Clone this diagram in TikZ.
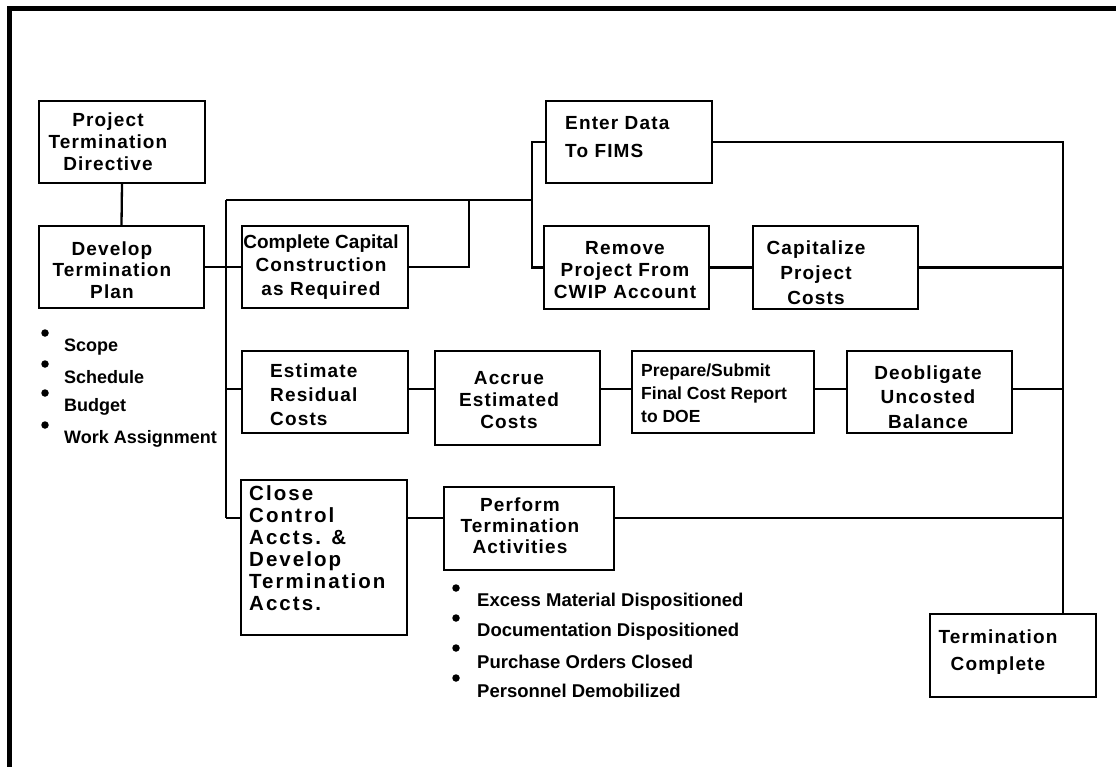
\documentclass[tikz,border=0pt]{standalone}
\usepackage{fontspec}
\setmainfont{Liberation Sans}
\newfontfamily\lsp[LetterSpace=6]{Liberation Sans}
\newfontfamily\lspw[LetterSpace=10]{Liberation Sans}
\newfontfamily\pln{Liberation Sans}
\begin{document}
\begin{tikzpicture}[x=1pt,y=-1pt,
  box/.style={draw,line width=2.4pt,inner sep=0pt},
  conn/.style={line width=2.3pt},
  bt/.style={inner sep=0pt,align=center,font={\lsp\bfseries\fontsize{19}{#1}\selectfont}},
  btl/.style={inner sep=0pt,align=left,anchor=west,font={\lsp\bfseries\fontsize{19}{#1}\selectfont}},
  dot/.style={circle,fill=black,inner sep=0pt,minimum size=7.5pt},
  blt/.style={inner sep=0pt,anchor=west,font={\pln\bfseries\fontsize{#1}{#1}\selectfont}}]
\useasboundingbox (0,0) rectangle (1116,767);
% outer frame (top and left edges)
\draw[line width=4.7pt,line join=miter] (9.7,775) -- (9.7,8.5) -- (1125,8.5);

% boxes
\node[box,minimum width=166pt,minimum height=82pt] (ptd) at (122,142) {};
\node[box,minimum width=165pt,minimum height=82pt] (dtp) at (121.5,267) {};
\node[box,minimum width=166pt,minimum height=82pt] (ccc) at (325,267) {};
\node[box,minimum width=166pt,minimum height=82pt] (ent) at (629,142) {};
\node[box,minimum width=165pt,minimum height=83pt] (rem) at (626.5,267.5) {};
\node[box,minimum width=165pt,minimum height=83pt] (cap) at (835.5,267.5) {};
\node[box,minimum width=166pt,minimum height=82pt] (est) at (325,392) {};
\node[box,minimum width=165pt,minimum height=94pt] (acc) at (517.5,398) {};
\node[box,minimum width=182pt,minimum height=82pt] (prep) at (723,392) {};
\node[box,minimum width=165pt,minimum height=82pt] (deo) at (929.5,392) {};
\node[box,minimum width=166pt,minimum height=155pt] (clo) at (324,557.5) {};
\node[box,minimum width=170pt,minimum height=83pt] (per) at (529,528.5) {};
\node[box,minimum width=166pt,minimum height=83pt] (tc) at (1013,655.5) {};

% box texts
\node[bt=22] (ptdT) at (108,142) {Project\\Termination\\Directive};
\node[bt=21.5] (dtpT) at (112,270) {Develop\\Termination\\Plan};
\node[bt=23.5] (cccT) at (321,267) {{\pln\bfseries Complete Capital}\\Construction\\as Required};
\node[btl=28] (entT) at (565,137.5) {Enter Data\\To FIMS};
\node[bt=22] (remT) at (625,270) {Remove\\Project From\\CWIP Account};
\node[bt=25] (capT) at (816,273) {Capitalize\\Project\\Costs};
\node[btl=24] (estT) at (270,395) {Estimate\\Residual\\ Costs};
\node[bt=22] (accT) at (509,400) {Accrue\\Estimated\\Costs};
\node[inner sep=0pt,align=left,anchor=west,font={\pln\bfseries\fontsize{17.5}{23}\selectfont}] (prepT) at (641,393) {Prepare/Submit\\Final Cost Report\\to DOE};
\node[bt=24.5] (deoT) at (928,397) {Deobligate\\Uncosted\\Balance};
\node[inner sep=0pt,align=left,anchor=west,font={\lspw\bfseries\fontsize{20.5}{22}\selectfont}] (cloT) at (249,548.5) {Close\\Control\\Accts. \&\\Develop\\Termination\\Accts.};
\node[bt=21] (perT) at (520,526) {Perform\\Termination\\Activities};
\node[bt=27] (tcT) at (998,652) {Termination\\Complete};

% junction coordinates
\coordinate (busT) at (226,200);
\coordinate (busB) at (226,518);
\coordinate (bus2) at (226,389);
\coordinate (j1) at (469,200);
\coordinate (j2M) at (532,200);
\coordinate (rX) at (1063,0);

% connectors
\draw[conn] (ptd.south) -- (dtp.north);
\draw[conn] (dtp.east) -- (ccc.west);
\draw[conn] (busT) -- (busB);
\draw[conn] (busT) -- (j2M);
\draw[conn] (ccc.east) -| (j1);
\draw[conn] (ent.west) -| (j2M) |- (rem.west);
\draw[conn] (rem.east) -- (cap.west);
\draw[conn] (ent.east) -| (tc.north -| rX);
\draw[conn] (cap.east) -- (cap.east -| rX);
\draw[conn] (bus2) -- (bus2 -| est.west);
\draw[conn] (est.east |- bus2) -- (acc.west |- bus2);
\draw[conn] (acc.east |- bus2) -- (prep.west |- bus2);
\draw[conn] (prep.east |- bus2) -- (deo.west |- bus2);
\draw[conn] (deo.east |- bus2) -- (bus2 -| rX);
\draw[conn] (busB) -- (busB -| clo.west);
\draw[conn] (clo.east |- busB) -- (per.west |- busB);
\draw[conn] (per.east |- busB) -- (busB -| rX);

% left bullet list
\node[dot] (d1) at (45,333) {};
\node[dot] (d2) at (45,364) {};
\node[dot] (d3) at (45,393) {};
\node[dot] (d4) at (45,425) {};
\node[blt=18] (l1) at (64,347) {Scope};
\node[blt=18] (l2) at (64,377) {Schedule};
\node[blt=18] (l3) at (64,407) {Budget};
\node[blt=18] (l4) at (64,439) {Work Assignment};

% right bullet list
\node[dot] (e1) at (456,588) {};
\node[dot] (e2) at (456,618) {};
\node[dot] (e3) at (456,648) {};
\node[dot] (e4) at (456,678) {};
\node[blt=18.5] (m1) at (477,602) {Excess Material Dispositioned};
\node[blt=18.5] (m2) at (477,632) {Documentation Dispositioned};
\node[blt=18.5] (m3) at (477,662) {Purchase Orders Closed};
\node[blt=18.5] (m4) at (477,691) {Personnel Demobilized};
\end{tikzpicture}
\end{document}
